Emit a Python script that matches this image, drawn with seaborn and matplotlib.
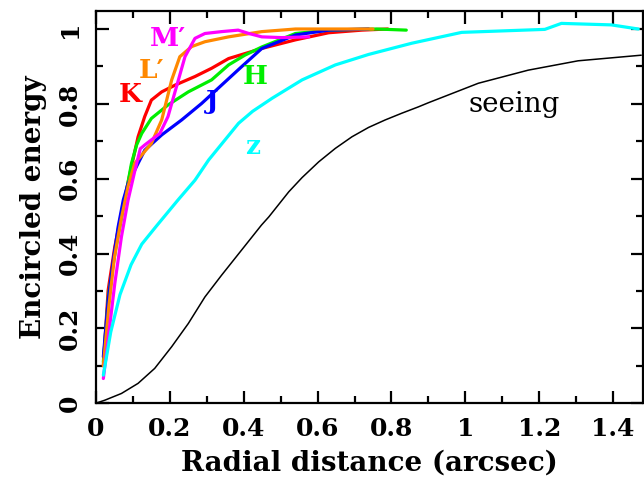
import numpy as np
import pandas as pd
import seaborn as sns
import matplotlib.pyplot as plt
from matplotlib.ticker import MultipleLocator

# Encircled energy curves
k_r = [0.02, 0.033, 0.051, 0.069, 0.096, 0.114, 0.132, 0.150, 0.178, 0.214, 0.268, 0.313, 0.359, 0.449,
       0.54, 0.63, 0.72, 0.79]
k_ee = [0.10, 0.302, 0.418, 0.507, 0.632, 0.712, 0.766, 0.810, 0.832, 0.850, 0.873, 0.895, 0.921, 0.948,
        0.971, 0.990, 0.997, 1.0]

h_r = [0.02, 0.034, 0.053, 0.07, 0.096, 0.110, 0.124, 0.150, 0.195, 0.250, 0.313, 0.359, 0.403, 0.449,
       0.54, 0.63, 0.76, 0.84]
h_ee = [0.11, 0.29, 0.41, 0.50, 0.64, 0.69, 0.721, 0.761, 0.797, 0.832, 0.864, 0.904, 0.930, 0.952,
        0.988, 0.997, 1.0, 0.997]

j_r = [0.02, 0.033, 0.047, 0.06, 0.074, 0.087, 0.114, 0.132, 0.178, 0.232, 0.286, 0.340, 0.394, 0.449,
       0.54, 0.63, 0.738]
j_ee = [0.124, 0.275, 0.382, 0.471, 0.543, 0.587, 0.641, 0.676, 0.717, 0.757, 0.801, 0.850, 0.899, 0.948,
        0.984, 0.997, 1.0]

l_r = [0.02, 0.035, 0.05, 0.068, 0.087, 0.105, 0.150, 0.178, 0.205, 0.227, 0.259, 0.295, 0.359, 0.449,
       0.54, 0.65, 0.75]
l_ee = [0.10, 0.26, 0.39, 0.49, 0.58, 0.641, 0.694, 0.757, 0.864, 0.926, 0.953, 0.966, 0.979, 0.993,
        1.0, 1.0, 1.0]

m_r = [0.02, 0.038, 0.051, 0.069, 0.087, 0.105, 0.12, 0.132, 0.173, 0.195, 0.218, 0.241, 0.268, 0.295,
       0.340, 0.385, 0.414, 0.449, 0.503, 0.576]
m_ee = [0.066, 0.213, 0.32, 0.445, 0.543, 0.62, 0.68, 0.690, 0.721, 0.766, 0.846, 0.926, 0.975, 0.988,
        0.993, 0.997, 0.988, 0.979, 0.977, 0.979]

z_r = [0.02, 0.04, 0.065, 0.095, 0.124, 0.165, 0.222, 0.268, 0.305, 0.386, 0.424, 0.477, 0.558, 0.648,
       0.738, 0.855, 0.99, 1.215, 1.26, 1.395, 1.468]
z_ee = [0.075, 0.19, 0.29, 0.37, 0.425, 0.475, 0.543, 0.596, 0.65, 0.748, 0.78, 0.815, 0.864, 0.904,
        0.932, 0.962, 0.991, 0.999, 1.015, 1.011, 1.0]

see_r = [0.0, 0.024, 0.069, 0.114, 0.159, 0.205, 0.25, 0.295, 0.34, 0.394, 0.448, 0.468, 0.522, 0.558,
         0.603, 0.648, 0.693, 0.738, 0.783, 0.828, 0.873, 0.9, 1.035, 1.17, 1.305, 1.476]
see_ee = [0.0, 0.008, 0.026, 0.053, 0.093, 0.151, 0.213, 0.284, 0.342, 0.409, 0.476, 0.498, 0.565, 0.603,
          0.645, 0.681, 0.712, 0.737, 0.757, 0.775, 0.792, 0.803, 0.855, 0.89, 0.915, 0.93]

colors = ["#ff0000", "#00ee00", "#0000ff", "#ff8800", "#ff00ff", "#00ffff"]
curves = [(k_r, k_ee), (h_r, h_ee), (j_r, j_ee), (l_r, l_ee), (m_r, m_ee), (z_r, z_ee)]
label_txt = ["K", "H", "J", "L\u2032", "M\u2032", "z"]
label_x = [0.092, 0.432, 0.314, 0.15, 0.195, 0.423]
label_y = [0.824, 0.873, 0.806, 0.89, 0.975, 0.687]

sns.set_style("ticks", {"axes.edgecolor": "black", "text.color": "black",
                        "axes.labelcolor": "black", "xtick.color": "black",
                        "ytick.color": "black"})
plt.rcParams['font.family'] = ['DejaVu Serif']
plt.rcParams['font.weight'] = 'bold'

fig = plt.figure(figsize=(6.44, 4.8), dpi=100)
ax = fig.add_axes([0.149, 0.160, 0.849, 0.817])

for (r, ee), c in zip(curves, colors):
    df = pd.DataFrame({"r": r, "ee": ee})
    sns.lineplot(data=df, x="r", y="ee", color=c, lw=2.3, sort=False, ax=ax)

df = pd.DataFrame({"r": see_r, "ee": see_ee})
sns.lineplot(data=df, x="r", y="ee", color="black", lw=1.1, sort=False, ax=ax)

for x, y, t, c in zip(label_x, label_y, label_txt, colors):
    ax.text(x, y, t, color=c, fontsize=19, fontweight='bold', ha='center', va='center')
ax.text(1.132, 0.797, "seeing", color="black", fontsize=20, fontweight='normal', ha='center', va='center')

ax.set_xlim(0, 1.48)
ax.set_ylim(0, 1.048)
ax.xaxis.set_minor_locator(MultipleLocator(0.1))
ax.yaxis.set_minor_locator(MultipleLocator(0.1))
ax.set_xticks(np.arange(0, 1.5, 0.2))
ax.set_xticklabels(["0", "0.2", "0.4", "0.6", "0.8", "1", "1.2", "1.4"])
ax.set_yticks(np.arange(0, 1.01, 0.2))
ax.set_yticklabels(["0", "0.2", "0.4", "0.6", "0.8", "1"], rotation=90, va='center')
ax.tick_params(which='both', direction='in', top=True, right=True, width=1.6,
               labelsize=18, pad=10)
ax.tick_params(which='major', length=9)
ax.tick_params(which='minor', length=5)
for s in ax.spines.values():
    s.set_linewidth(1.6)

ax.set_xlabel("Radial distance (arcsec)", fontsize=20, fontweight='bold', labelpad=6)
ax.set_ylabel("Encircled energy", fontsize=20, fontweight='bold', labelpad=8)

fig.savefig("out.png", dpi=100)
